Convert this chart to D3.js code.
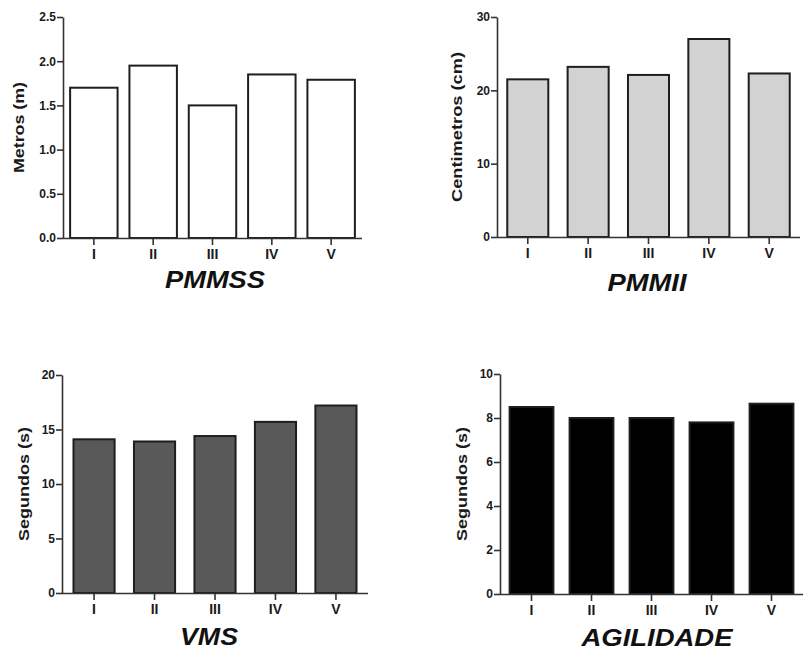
<!DOCTYPE html>
<html>
<head>
<meta charset="utf-8">
<script src="https://cdn.jsdelivr.net/npm/d3@7"></script>
<style>
  html, body { margin: 0; padding: 0; background: #ffffff; }
  svg { display: block; font-family: "Liberation Sans", Arial, Helvetica, sans-serif; }
</style>
</head>
<body>
<svg id="chart" width="811" height="664"></svg>
<script>
// Group labels shared by every panel
const categories = ["I", "II", "III", "IV", "V"];

// Series values, one array per test
const pmmss     = [1.70, 1.95, 1.50, 1.85, 1.79];
const pmmii     = [21.5, 23.2, 22.1, 27.0, 22.3];
const vms       = [14.1, 13.9, 14.4, 15.7, 17.2];
const agilidade = [8.5, 8.0, 8.0, 7.8, 8.65];

// Y tick values per panel
const pmmssTicks     = [0, 0.5, 1.0, 1.5, 2.0, 2.5];
const pmmiiTicks     = [0, 10, 20, 30];
const vmsTicks       = [0, 5, 10, 15, 20];
const agilidadeTicks = [0, 2, 4, 6, 8, 10];

// Titles and axis labels
const titles  = ["PMMSS", "PMMII", "VMS", "AGILIDADE"];
const yLabels = ["Metros (m)", "Centimetros (cm)", "Segundos (s)", "Segundos (s)"];

const panels = [
  { values: pmmss, ticks: pmmssTicks, fmt: d3.format(".1f"), max: 2.5,
    title: titles[0], yLabel: yLabels[0], fill: "#ffffff",
    x0: 63, x1: 362, yTop: 17, yBot: 238, pi: 0.2, po: 0.12,
    titleX: 215, titleY: 288, titleLen: 100, labelX: 24, labelLen: 91 },
  { values: pmmii, ticks: pmmiiTicks, fmt: d3.format("d"), max: 30,
    title: titles[1], yLabel: yLabels[1], fill: "#d2d2d2",
    x0: 497, x1: 800, yTop: 17, yBot: 237, pi: 0.32, po: 0.17,
    titleX: 647, titleY: 291, titleLen: 79, labelX: 462, labelLen: 150 },
  { values: vms, ticks: vmsTicks, fmt: d3.format("d"), max: 20,
    title: titles[2], yLabel: yLabels[2], fill: "#595959",
    x0: 62, x1: 368, yTop: 375, yBot: 593, pi: 0.32, po: 0.19,
    titleX: 209, titleY: 645, titleLen: 58, labelX: 29, labelLen: 114 },
  { values: agilidade, ticks: agilidadeTicks, fmt: d3.format("d"), max: 10,
    title: titles[3], yLabel: yLabels[3], fill: "#000000",
    x0: 500, x1: 803, yTop: 374, yBot: 594, pi: 0.27, po: 0.16,
    titleX: 657, titleY: 646, titleLen: 151, labelX: 467, labelLen: 114 }
];

const svg = d3.select("#chart");
const axisColor = "#333333";

panels.forEach(p => {
  const g = svg.append("g");

  const x = d3.scaleBand()
    .domain(categories)
    .range([p.x0, p.x1])
    .paddingInner(p.pi)
    .paddingOuter(p.po);

  const y = d3.scaleLinear()
    .domain([0, p.max])
    .range([p.yBot, p.yTop]);

  // bars
  g.selectAll("rect.bar")
    .data(p.values)
    .join("rect")
    .attr("class", "bar")
    .attr("x", (d, i) => x(categories[i]))
    .attr("width", x.bandwidth())
    .attr("y", d => y(d))
    .attr("height", d => y(0) - y(d))
    .attr("fill", p.fill)
    .attr("stroke", "#1e1e1e")
    .attr("stroke-width", 2);

  // y axis
  const yAxis = g.append("g")
    .attr("transform", `translate(${p.x0},0)`)
    .call(d3.axisLeft(y).tickValues(p.ticks).tickFormat(p.fmt).tickSize(6).tickSizeOuter(0).tickPadding(1));

  // x axis
  const xAxis = g.append("g")
    .attr("transform", `translate(0,${p.yBot})`)
    .call(d3.axisBottom(x).tickSize(7).tickSizeOuter(0).tickPadding(4));
  xAxis.select(".domain").attr("d", `M${p.x0},0.5H${p.x1}`);

  [yAxis, xAxis].forEach(a => {
    a.select(".domain").attr("stroke", axisColor).attr("stroke-width", 1.6);
    a.selectAll(".tick line").attr("stroke", axisColor).attr("stroke-width", 1.6);
    a.selectAll(".tick text")
      .attr("fill", "#1a1a1a")
      .attr("font-weight", "bold")
      .attr("font-family", "'Liberation Sans', Arial, sans-serif");
  });
  yAxis.selectAll(".tick text").attr("font-size", 12);
  xAxis.selectAll(".tick text").attr("font-size", 14);

  // y axis label
  g.append("text")
    .attr("transform", `translate(${p.labelX},${(p.yTop + p.yBot) / 2}) rotate(-90)`)
    .attr("text-anchor", "middle")
    .attr("font-size", 14)
    .attr("font-weight", "bold")
    .attr("fill", "#1a1a1a")
    .attr("textLength", p.labelLen)
    .attr("lengthAdjust", "spacingAndGlyphs")
    .text(p.yLabel);

  // panel title
  g.append("text")
    .attr("x", p.titleX)
    .attr("y", p.titleY)
    .attr("text-anchor", "middle")
    .attr("font-size", 23)
    .attr("font-weight", "bold")
    .attr("font-style", "italic")
    .attr("fill", "#111111")
    .attr("textLength", p.titleLen)
    .attr("lengthAdjust", "spacingAndGlyphs")
    .text(p.title);
});
</script>
</body>
</html>
